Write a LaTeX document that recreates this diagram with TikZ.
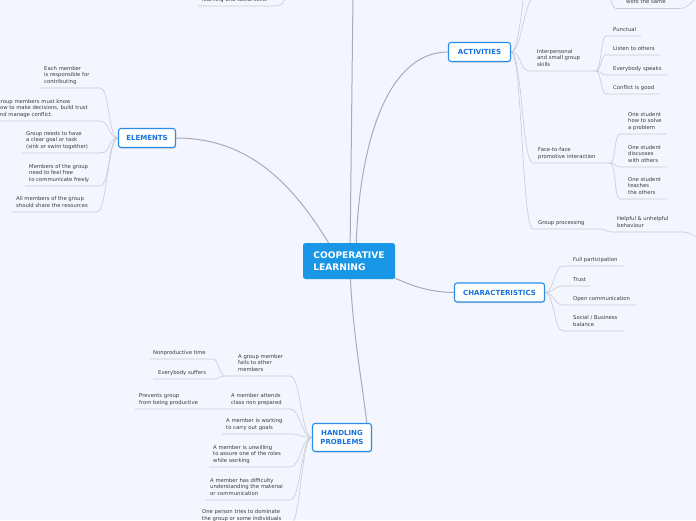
\documentclass[tikz,border=0pt]{standalone}
\usepackage{fontspec}
\newfontfamily\dvs{DejaVu Sans}
\usetikzlibrary{shadows,backgrounds}
\definecolor{bg}{RGB}{243,246,254}
\definecolor{cfill}{RGB}{26,150,230}
\definecolor{bborder}{RGB}{45,140,232}
\definecolor{btext}{RGB}{22,115,222}
\definecolor{mainline}{RGB}{170,172,182}
\definecolor{leafline}{RGB}{200,202,212}
\definecolor{leaftext}{RGB}{58,58,64}
\begin{document}
\begin{tikzpicture}[x=1pt,y=-1pt,
  central/.style={fill=cfill, rounded corners=2.5pt, text=white, font=\dvs\bfseries\fontsize{9.1}{12}\selectfont, align=left, minimum width=92pt, minimum height=36pt, inner sep=0pt},
  branch/.style={draw=bborder, line width=1.1pt, fill=white, rounded corners=2.5pt, text=btext, font=\dvs\bfseries\fontsize{7}{9}\selectfont, align=center, inner sep=0pt, minimum height=19pt, drop shadow={opacity=0.3, shadow xshift=0.5pt, shadow yshift=-1pt}},
  leaf/.style={font=\dvs\fontsize{5.3}{6.6}\selectfont, text=leaftext, align=left, inner sep=0pt, anchor=south west, execute at end node=\strut},
  mline/.style={draw=mainline, line width=1pt},
  lline/.style={draw=leafline, line width=0.6pt},
  sr/.style={out=0,in=180,distance=#1},
  sl/.style={out=180,in=0,distance=#1},
]
\useasboundingbox (0,0) rectangle (696,520);
\clip (0,0) rectangle (696,520);

% ---------- main nodes ----------
\node[central] (cl) at (349,261) {COOPERATIVE\\LEARNING};
\node[branch, minimum width=57pt] (el) at (147,138) {ELEMENTS};
\node[branch, minimum width=62pt] (act) at (479.5,52) {ACTIVITIES};
\node[branch, minimum width=90pt] (ch) at (499.5,292.5) {CHARACTERISTICS};
\node[branch, minimum width=59pt, minimum height=28pt] (hp) at (342,437.5) {HANDLING\\PROBLEMS};

% ---------- leaves: ELEMENTS ----------
\node[leaf] (e1) at (44,85.5) {Each member\\is responsible for\\contributing};
\node[leaf] (e2) at (-3.5,118.5) {Group members must know\\how to make decisions, build trust\\and manage conflict.};
\node[leaf] (e3) at (26,150.5) {Group needs to have\\a clear goal or task\\(sink or swim together)};
\node[leaf] (e4) at (29,183.5) {Members of the group\\need to feel free\\to communicate freely};
\node[leaf] (e5) at (16,209.5) {All members of the group\\should share the resources};

% ---------- leaves: ACTIVITIES ----------
\node[leaf] (i1) at (537,68.5) {Interpersonal\\and small group\\skills};
\node[leaf] (p1) at (613,33.5) {Punctual};
\node[leaf] (p2) at (613,52.5) {Listen to others};
\node[leaf] (p3) at (613,72.5) {Everybody speaks};
\node[leaf] (p4) at (613,91.5) {Conflict is good};
\node[leaf] (f1) at (538,160.5) {Face-to-face\\promotive interaction};
\node[leaf] (f1a) at (628,131.5) {One student\\how to solve\\a problem};
\node[leaf] (f1b) at (628,164.5) {One student\\discusses\\with others};
\node[leaf] (f1c) at (628,196.5) {One student\\teaches\\the others};
\node[leaf] (g1) at (538,226.5) {Group processing};
\node[leaf] (g1a) at (617,229.5) {Helpful \& unhelpful\\behaviour};
\node[leaf] (w1) at (626,6) {work the same};

% ---------- leaves: CHARACTERISTICS ----------
\node[leaf] (c1) at (573,263.5) {Full participation};
\node[leaf] (c2) at (573,283.5) {Trust};
\node[leaf] (c3) at (573,302.5) {Open communication};
\node[leaf] (c4) at (573,328.5) {Social / Business\\balance};

% ---------- leaves: HANDLING PROBLEMS ----------
\node[leaf] (h1) at (238,373.5) {A group member\\fails to other\\members};
\node[leaf] (h1a) at (153,356.5) {Nonproductive time};
\node[leaf] (h1b) at (158,376.5) {Everybody suffers};
\node[leaf] (h2) at (231,406.5) {A member attends\\class non prepared};
\node[leaf] (h2a) at (139,406.5) {Prevents group\\from being productive};
\node[leaf] (h3) at (226,431.5) {A member is working\\to carry out goals};
\node[leaf] (h4) at (213,464.5) {A member is unwilling\\to assure one of the roles\\while working};
\node[leaf] (h5) at (210,497.5) {A member has difficulty\\understanding the material\\or communication};
\node[leaf] (h6) at (202,522.5) {One person tries to dominate\\the group or some individuals};

% ---------- top fragment ----------
\node[leaf] (t1) at (202,3.5) {learning and social skills};

% ---------- coordinates ----------
\coordinate (cTop) at (350,258);
\coordinate (cEl) at (334,252);
\coordinate (cAct) at (356,252);
\coordinate (cCh) at (375,268);
\coordinate (cHp) at (350,268);
\coordinate (topEnd) at (353,-5);
\coordinate (hpTop) at (367,425);

\coordinate (e1r) at (100,88);  \coordinate (e1l) at (40,88);
\coordinate (e2r) at (100,121); \coordinate (e2l) at (-5,121);
\coordinate (e3r) at (101,153); \coordinate (e3l) at (22,153);
\coordinate (e4r) at (100,186); \coordinate (e4l) at (25,186);
\coordinate (e5r) at (97,212);  \coordinate (e5l) at (12,212);

\coordinate (i1l) at (530,71);  \coordinate (i1r) at (596,71);
\coordinate (p1l) at (606,36);  \coordinate (p1r) at (641,36);
\coordinate (p2l) at (606,55);  \coordinate (p2r) at (660,55);
\coordinate (p3l) at (606,75);  \coordinate (p3r) at (667,75);
\coordinate (p4l) at (606,94);  \coordinate (p4r) at (660,94);
\coordinate (f1l) at (533,163); \coordinate (f1r) at (610,163);
\coordinate (f1al) at (620,134); \coordinate (f1ar) at (666,134);
\coordinate (f1bl) at (620,167); \coordinate (f1br) at (667,167);
\coordinate (f1cl) at (620,199); \coordinate (f1cr) at (667,199);
\coordinate (g1l) at (533,229); \coordinate (g1r) at (600,229);
\coordinate (g1al) at (612,232); \coordinate (g1ar) at (683,232);
\coordinate (g1aout) at (706,240);
\coordinate (up1) at (535,-3);
\coordinate (up2) at (535,-50);
\coordinate (wsJ) at (604,-16);
\coordinate (w1l) at (616,8.5); \coordinate (w1r) at (680,8.5);
\coordinate (w1out) at (704,-4);

\coordinate (c1l) at (563,266); \coordinate (c1r) at (623,266);
\coordinate (c2l) at (563,286); \coordinate (c2r) at (591,286);
\coordinate (c3l) at (563,305); \coordinate (c3r) at (636,305);
\coordinate (c4l) at (563,331); \coordinate (c4r) at (624,331);

\coordinate (h1r) at (290,376); \coordinate (h1l) at (225,376);
\coordinate (h1ar) at (213,359); \coordinate (h1al) at (149,359);
\coordinate (h1br) at (213,379); \coordinate (h1bl) at (153,379);
\coordinate (h2r) at (290,409); \coordinate (h2l) at (205,409);
\coordinate (h2al) at (135,409);
\coordinate (h3r) at (290,434); \coordinate (h3l) at (222,434);
\coordinate (h4r) at (290,467); \coordinate (h4l) at (209,467);
\coordinate (h5r) at (290,500); \coordinate (h5l) at (205,500);
\coordinate (h6r) at (290,525); \coordinate (h6l) at (198,525);

\coordinate (tpJ) at (302,-28);
\coordinate (t1r) at (277,6); \coordinate (t1l) at (198,6);

% ---------- connectors (behind) ----------
\begin{pgfonlayer}{background}
\fill[bg] (0,0) rectangle (696,520);
% main
\draw[mline] (cTop) -- (topEnd);
\draw[mline] (cEl) .. controls (295,185) and (250,138) .. (el.east);
\draw[mline] (cAct) .. controls (358,150) and (385,52) .. (act.west);
\draw[mline] (cCh) .. controls (405,284) and (425,292) .. (ch.west);
\draw[mline] (cHp) .. controls (352,330) and (362,380) .. (hpTop);
% elements
\draw[lline] (el.west) to[sl=10pt] (e1r) -- (e1l);
\draw[lline] (el.west) to[sl=10pt] (e2r) -- (e2l);
\draw[lline] (el.west) to[sl=10pt] (e3r) -- (e3l);
\draw[lline] (el.west) to[sl=10pt] (e4r) -- (e4l);
\draw[lline] (el.west) to[sl=10pt] (e5r) -- (e5l);
% activities
\draw[lline] (act.east) to[sr=11pt] (up1);
\draw[lline] (act.east) to[sr=11pt] (up2);
\draw[lline] (act.east) to[sr=11pt] (i1l) -- (i1r);
\draw[lline] (i1r) to[sr=5pt] (p1l) -- (p1r);
\draw[lline] (i1r) to[sr=5pt] (p2l) -- (p2r);
\draw[lline] (i1r) to[sr=5pt] (p3l) -- (p3r);
\draw[lline] (i1r) to[sr=5pt] (p4l) -- (p4r);
\draw[lline] (act.east) to[sr=11pt] (f1l) -- (f1r);
\draw[lline] (f1r) to[sr=6pt] (f1al) -- (f1ar);
\draw[lline] (f1r) to[sr=6pt] (f1bl) -- (f1br);
\draw[lline] (f1r) to[sr=6pt] (f1cl) -- (f1cr);
\draw[lline] (act.east) to[sr=11pt] (g1l) -- (g1r);
\draw[lline] (g1r) to[sr=6pt] (g1al) -- (g1ar) to[sr=10pt] (g1aout);
\draw[lline] (wsJ) to[sr=6pt] (w1l) -- (w1r) to[sr=10pt] (w1out);
% characteristics
\draw[lline] (ch.east) to[sr=9pt] (c1l) -- (c1r);
\draw[lline] (ch.east) to[sr=9pt] (c2l) -- (c2r);
\draw[lline] (ch.east) to[sr=9pt] (c3l) -- (c3r);
\draw[lline] (ch.east) to[sr=9pt] (c4l) -- (c4r);
% handling problems
\draw[lline] (hp.west) to[sl=11pt] (h1r) -- (h1l);
\draw[lline] (h1l) to[sl=6pt] (h1ar) -- (h1al);
\draw[lline] (h1l) to[sl=6pt] (h1br) -- (h1bl);
\draw[lline] (hp.west) to[sl=11pt] (h2r) -- (h2l) -- (h2al);
\draw[lline] (hp.west) to[sl=11pt] (h3r) -- (h3l);
\draw[lline] (hp.west) to[sl=11pt] (h4r) -- (h4l);
\draw[lline] (hp.west) to[sl=11pt] (h5r) -- (h5l);
\draw[lline] (hp.west) to[sl=11pt] (h6r) -- (h6l);
% top fragment
\draw[lline] (tpJ) to[sl=12pt] (t1r) -- (t1l);
\end{pgfonlayer}
\end{tikzpicture}
\end{document}
